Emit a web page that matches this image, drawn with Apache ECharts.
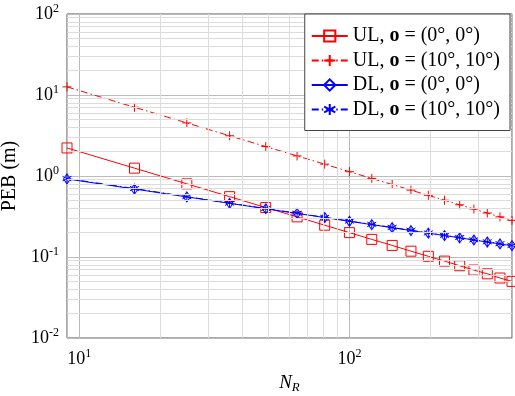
<!DOCTYPE html>
<html>
<head>
<meta charset="utf-8">
<script src="https://cdn.jsdelivr.net/npm/echarts@6/dist/echarts.min.js"></script>
<style>
  html, body { margin: 0; padding: 0; background: #fff; }
  #chart { width: 515px; height: 396px; }
</style>
</head>
<body>
<div id="chart"></div>
<script>
// N_R values (k^2, k = 3..20)
const nR = [9, 16, 25, 36, 49, 64, 81, 100, 121, 144, 169, 196, 225, 256, 289, 324, 361, 400];

// PEB values (m)
const ul00 = [2.22, 1.25, 0.80, 0.556, 0.408, 0.313, 0.247, 0.200, 0.165, 0.139, 0.118, 0.102, 0.089, 0.078, 0.069, 0.062, 0.055, 0.050];
const ul1010 = [12.6, 7.06, 4.52, 3.14, 2.31, 1.77, 1.40, 1.13, 0.934, 0.785, 0.669, 0.577, 0.502, 0.441, 0.391, 0.349, 0.313, 0.283];
const dl00 = [0.92, 0.69, 0.552, 0.46, 0.394, 0.345, 0.307, 0.276, 0.251, 0.230, 0.212, 0.197, 0.184, 0.1725, 0.162, 0.153, 0.145, 0.138];
const dl1010 = [0.93, 0.70, 0.556, 0.463, 0.397, 0.347, 0.309, 0.278, 0.253, 0.232, 0.214, 0.198, 0.185, 0.174, 0.163, 0.154, 0.146, 0.139];

const legendNames = ['UL00', 'UL1010', 'DL00', 'DL1010'];
const legendLabels = {
    UL00: '{n|UL, }{b|o}{n| = (0°, 0°)}',
    UL1010: '{n|UL, }{b|o}{n| = (10°, 10°)}',
    DL00: '{n|DL, }{b|o}{n| = (0°, 0°)}',
    DL1010: '{n|DL, }{b|o}{n| = (10°, 10°)}'
};

const FONT = 'Liberation Serif';
const RED = '#ff0000';
const BLUE = '#0000ff';
const dashDot = [7, 3, 1.5, 3];

function pairs(ys) {
    return nR.map((x, i) => [x, ys[i]]);
}

// minor grid lines (2..9 times each decade)
const minorX = [];
const minorY = [];
for (let e = 0; e <= 2; e++) {
    for (let m = 2; m <= 9; m++) {
        const v = m * Math.pow(10, e);
        if (v > 9 && v < 400 && v !== 10 && v !== 100) minorX.push(v);
    }
}
for (let e = -2; e <= 1; e++) {
    for (let m = 2; m <= 9; m++) minorY.push(m * Math.pow(10, e));
}

function powLabel(value) {
    const p = Math.log10(value);
    if (Math.abs(p - Math.round(p)) > 1e-6) return '';
    return '{b|10}{s|' + Math.round(p) + '}';
}

const tickRich = {
    b: { fontFamily: FONT, fontSize: 18, color: '#000' },
    s: { fontFamily: FONT, fontSize: 12, color: '#000', verticalAlign: 'top', padding: [0, 0, 11, 0] }
};

const option = {
    animation: false,
    grid: {
        left: 67, right: 3, top: 14, bottom: 58,
        outerBoundsMode: 'none',
        containLabel: false,
        show: true, borderColor: '#555', borderWidth: 1
    },
    legend: {
        data: legendNames,
        orient: 'vertical',
        right: 5,
        top: 14,
        padding: [12, 10, 11, 6],
        itemGap: 4.5,
        itemWidth: 36,
        itemHeight: 14,
        borderColor: '#444',
        borderWidth: 1,
        backgroundColor: '#fff',
        z: 10,
        formatter: function (name) { return legendLabels[name]; },
        textStyle: {
            padding: [0, 0, 0, 0],
            rich: {
                n: { fontFamily: FONT, fontSize: 20, lineHeight: 20, color: '#000' },
                b: { fontFamily: FONT, fontSize: 20, lineHeight: 20, fontWeight: 'bold', color: '#000' }
            }
        }
    },
    xAxis: {
        type: 'log',
        logBase: 10,
        min: 9,
        max: 400,
        name: '{i|N}{s|R}',
        nameLocation: 'middle',
        nameGap: 32,
        nameTextStyle: {
            rich: {
                i: { fontFamily: FONT, fontSize: 19, fontStyle: 'italic', color: '#000' },
                s: { fontFamily: FONT, fontSize: 13, fontStyle: 'italic', color: '#000', verticalAlign: 'bottom', padding: [9, 0, 0, 0] }
            }
        },
        axisLine: { show: false },
        axisTick: { show: false },
        axisLabel: {
            showMinLabel: false, showMaxLabel: false,
            margin: 10,
            formatter: powLabel,
            rich: tickRich
        },
        splitLine: { show: true, lineStyle: { color: '#bbbbbb', width: 1 } }
    },
    yAxis: {
        type: 'log',
        logBase: 10,
        min: 0.01,
        max: 100,
        name: 'PEB (m)',
        nameLocation: 'middle',
        nameRotate: 90,
        nameGap: 43,
        nameTextStyle: { fontFamily: FONT, fontSize: 20, color: '#000' },
        axisLine: { show: false },
        axisTick: { show: false },
        axisLabel: {
            margin: 8,
            formatter: powLabel,
            rich: tickRich
        },
        splitLine: { show: true, lineStyle: { color: '#bbbbbb', width: 1 } }
    },
    series: [
        {
            name: 'minor',
            type: 'line',
            data: [[10, 1]],
            symbol: 'none',
            lineStyle: { opacity: 0 },
            silent: true,
            z: 1,
            markLine: {
                silent: true,
                symbol: 'none',
                animation: false,
                label: { show: false },
                lineStyle: { color: '#dcdcdc', width: 1, type: 'solid' },
                data: minorX.map(v => ({ xAxis: v })).concat(minorY.map(v => ({ yAxis: v })))
            }
        },
        {
            name: 'UL00',
            type: 'line',
            data: pairs(ul00),
            z: 3,
            symbol: 'rect',
            symbolSize: 10,
            lineStyle: { color: RED, width: 1 },
            itemStyle: { color: 'rgba(255,255,255,0)', borderColor: RED, borderWidth: 1 }
        },
        {
            name: 'UL1010',
            type: 'line',
            data: pairs(ul1010),
            z: 3,
            symbol: 'path://M5,0L5,10M0,5L10,5',
            symbolSize: 9,
            lineStyle: { color: RED, width: 1, type: dashDot },
            itemStyle: { color: RED, borderColor: RED, borderWidth: 1 }
        },
        {
            name: 'DL00',
            type: 'line',
            data: pairs(dl00),
            z: 4,
            symbol: 'diamond',
            symbolSize: [7, 10],
            lineStyle: { color: BLUE, width: 1 },
            itemStyle: { color: 'rgba(255,255,255,0)', borderColor: BLUE, borderWidth: 1 }
        },
        {
            name: 'DL1010',
            type: 'line',
            data: pairs(dl1010),
            z: 4,
            symbol: 'path://M5,0L5,10M0.67,2.5L9.33,7.5M0.67,7.5L9.33,2.5',
            symbolSize: 9,
            lineStyle: { color: BLUE, width: 1, type: dashDot },
            itemStyle: { color: BLUE, borderColor: BLUE, borderWidth: 1 }
        }
    ]
};

const myChart = echarts.init(document.getElementById('chart'));
myChart.setOption(option);
window.addEventListener('resize', myChart.resize);
</script>
</body>
</html>
